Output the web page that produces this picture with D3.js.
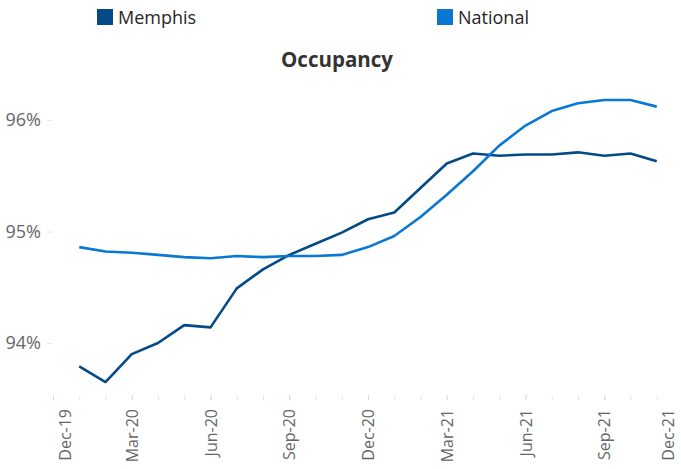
<!DOCTYPE html>
<html>
<head>
<meta charset="utf-8">
<script src="https://cdn.jsdelivr.net/npm/d3@7"></script>
<style>
  body { margin: 0; background: #fff; }
  svg { display: block; font-family: "Open Sans", sans-serif; }
</style>
</head>
<body>
<div id="chart"></div>
<script>
// chart data, one value per month Jan-20 .. Nov-21
var months = ["Jan-20", "Feb-20", "Mar-20", "Apr-20", "May-20", "Jun-20", "Jul-20", "Aug-20",
    "Sep-20", "Oct-20", "Nov-20", "Dec-20", "Jan-21", "Feb-21", "Mar-21", "Apr-21", "May-21",
    "Jun-21", "Jul-21", "Aug-21", "Sep-21", "Oct-21", "Nov-21"];
var memphis = [93.79, 93.65, 93.90, 94.00, 94.16, 94.14, 94.49, 94.66, 94.79, 94.89, 94.99,
    95.11, 95.17, 95.39, 95.61, 95.70, 95.68, 95.69, 95.69, 95.71, 95.68, 95.70, 95.63];
var national = [94.86, 94.82, 94.81, 94.79, 94.77, 94.76, 94.78, 94.77, 94.78, 94.78, 94.79,
    94.86, 94.96, 95.13, 95.33, 95.54, 95.77, 95.95, 96.08, 96.15, 96.18, 96.18, 96.12];
var tickLabels = ["Dec-19", "Mar-20", "Jun-20", "Sep-20", "Dec-20", "Mar-21", "Jun-21", "Sep-21", "Dec-21"];
var yTicks = [94, 95, 96];

var seriesNames = ["Memphis", "National"];
var seriesColors = ["#044a86", "#0a78d2"];

var svgWidth = 681;
var svgHeight = 469;

var svg = d3.select("#chart")
    .append("svg")
    .attr("width", svgWidth)
    .attr("height", svgHeight);

// month index: 0 = Dec-19, 24 = Dec-21
var xScale = d3.scaleLinear()
    .domain([0, 24])
    .range([53, 683]);

var yScale = d3.scaleLinear()
    .domain([94, 96])
    .range([343, 120]);

// y axis: labels plus short light tick marks
var yAxis = svg.append("g")
    .attr("transform", "translate(52, 0)")
    .call(d3.axisLeft(yScale)
        .tickValues(yTicks)
        .tickSize(5)
        .tickPadding(6)
        .tickFormat(d => d + "%"));

yAxis.select(".domain").remove();
yAxis.selectAll(".tick line").attr("stroke", "#e6e6e6");
yAxis.selectAll(".tick text")
    .attr("fill", "#666666")
    .attr("font-size", "18px")
    .attr("font-family", "Open Sans, sans-serif");

// x axis: minor ticks every month, labels every 3 months
var xAxisMinor = svg.append("g")
    .attr("transform", "translate(0, 395)")
    .call(d3.axisBottom(xScale)
        .tickValues(d3.range(0, 25))
        .tickSize(5)
        .tickFormat(""));
xAxisMinor.select(".domain").remove();
xAxisMinor.selectAll(".tick line").attr("stroke", "#e8e8e8");

var xAxis = svg.append("g")
    .attr("transform", "translate(0, 395)")
    .call(d3.axisBottom(xScale)
        .tickValues(d3.range(0, 25, 3))
        .tickSize(5)
        .tickFormat((d, i) => tickLabels[i]));
xAxis.select(".domain").remove();
xAxis.selectAll(".tick line").attr("stroke", "#dcdcdc");
xAxis.selectAll(".tick text")
    .attr("fill", "#666666")
    .attr("font-size", "16px")
    .attr("font-family", "Open Sans, sans-serif")
    .attr("text-anchor", "end")
    .attr("transform", "rotate(-90)")
    .attr("x", -14)
    .attr("y", 0)
    .attr("dy", "0.35em");

// end labels are nudged inwards so they stay inside the chart
xAxis.selectAll(".tick text").filter((d, i) => i === 0)
    .attr("y", 12);
xAxis.selectAll(".tick text").filter((d, i) => i === tickLabels.length - 1)
    .attr("y", -15);

// lines
var line = d3.line()
    .x((d, i) => xScale(i + 1))
    .y(d => yScale(d));

[memphis, national].forEach(function(values, k) {
    svg.append("path")
        .datum(values)
        .attr("fill", "none")
        .attr("stroke", seriesColors[k])
        .attr("stroke-width", 2.6)
        .attr("stroke-linejoin", "round")
        .attr("d", line);
});

// title
svg.append("text")
    .attr("x", 337)
    .attr("y", 67)
    .attr("text-anchor", "middle")
    .attr("font-size", "20.5px")
    .attr("font-weight", "bold")
    .attr("fill", "#333333")
    .text("Occupancy");

// legend
var legendX = [97, 437];
var legend = svg.selectAll(".legend")
    .data(seriesNames)
    .enter()
    .append("g")
    .attr("class", "legend")
    .attr("transform", (d, i) => `translate(${legendX[i]}, 9)`);

legend.append("rect")
    .attr("width", 16)
    .attr("height", 16)
    .attr("fill", (d, i) => seriesColors[i]);

legend.append("text")
    .attr("x", 21)
    .attr("y", 15)
    .attr("font-size", "18px")
    .attr("fill", "#262626")
    .text(d => d);
</script>
</body>
</html>
